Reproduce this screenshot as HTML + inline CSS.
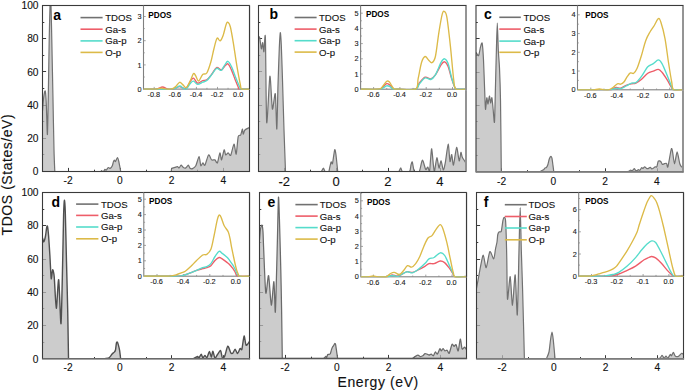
<!DOCTYPE html><html><head><meta charset="utf-8"><style>html,body{margin:0;padding:0;background:#fff;}svg{display:block;}text{font-family:"Liberation Sans", sans-serif;}</style></head><body>
<svg width="685" height="391" viewBox="0 0 685 391">
<rect width="685" height="391" fill="#fff"/>
<defs>
<clipPath id="cpa"><rect x="42.5" y="5.5" width="207" height="166"/></clipPath>
<clipPath id="cpb"><rect x="258.5" y="5.5" width="207.5" height="166"/></clipPath>
<clipPath id="cpc"><rect x="476" y="5.5" width="207" height="166.4"/></clipPath>
<clipPath id="cpd"><rect x="42.5" y="192.5" width="207" height="166.3"/></clipPath>
<clipPath id="cpe"><rect x="259.5" y="192.5" width="207" height="166"/></clipPath>
<clipPath id="cpf"><rect x="476.5" y="192.5" width="207" height="166.3"/></clipPath>
</defs>
<text stroke="#111" stroke-width="0.12" x="11.6" y="174.6" transform="rotate(-90 11.6 174.6)" text-anchor="middle" font-size="14" letter-spacing="0.55" fill="#111">TDOS (States/eV)</text>
<text stroke="#111" stroke-width="0.12" x="378.2" y="386.6" text-anchor="middle" font-size="14" letter-spacing="0.6" fill="#111">Energy (eV)</text>
<path d="M68.5,171.5v-3.6M94.5,171.5v-1.8M120.5,171.5v-3.6M146.5,171.5v-1.8M171.5,171.5v-3.6M197.5,171.5v-1.8M223.5,171.5v-3.6M42.5,154.5h1.8M42.5,138.5h3.6M42.5,121.5h1.8M42.5,105.5h3.6M42.5,88.5h1.8M42.5,71.5h3.6M42.5,55.5h1.8M42.5,38.5h3.6M42.5,22.5h1.8" stroke="#3a3a3a" stroke-width="1" fill="none"/>
<g clip-path="url(#cpa)"><path d="M42.5,110.7 C42.62,109.24 43.25,101.28 43.5,99 C43.75,96.72 44.26,93.44 44.5,92.5 C44.74,91.56 45.17,90.06 45.4,91.5 C45.62,92.94 46.05,98.62 46.3,104 C46.55,109.38 47.15,135.62 47.4,134.5 C47.65,133.38 48.07,106.81 48.3,95 C48.52,83.19 48.98,51.62 49.2,40 C49.43,28.38 49.89,6.75 50.1,2 C50.31,-2.75 50.69,-2.75 50.9,2 C51.11,6.75 51.54,27.75 51.8,40 C52.06,52.25 52.73,86.25 53,100 C53.27,113.75 53.77,141.06 54,150 C54.23,158.94 54.7,168.81 54.8,171.5 L54.8,172.5 L42.5,172.5 Z" fill="#bababa" fill-opacity="0.74"/><path d="M101,171.5 C101.08,171.38 101.42,170.5 101.6,170.5 C101.77,170.5 102.14,171.43 102.4,171.5 C102.66,171.57 103.38,171.36 103.7,171.1 C104.03,170.84 104.67,169.53 105,169.4 C105.33,169.28 105.89,170.34 106.3,170.1 C106.71,169.86 107.81,167.71 108.3,167.5 C108.79,167.29 109.71,168.58 110.2,168.4 C110.69,168.22 111.79,166.96 112.2,166.1 C112.61,165.24 113.22,162.24 113.5,161.5 C113.78,160.76 114.15,160.2 114.4,160.2 C114.65,160.2 115.12,161.82 115.5,161.5 C115.88,161.18 116.99,157.6 117.4,157.6 C117.81,157.6 118.39,159.76 118.8,161.5 C119.21,163.24 120.46,170.25 120.7,171.5 L120.7,172.5 L101,172.5 Z" fill="#bababa" fill-opacity="0.74"/><path d="M171.3,171.5 C171.35,171.14 171.24,169.11 171.7,168.6 C172.16,168.09 174.28,167.65 175,167.4 C175.72,167.15 176.99,166.54 177.5,166.6 C178.01,166.66 178.65,168.08 179.1,167.9 C179.55,167.72 180.57,165.26 181.1,165.2 C181.62,165.14 182.71,167.06 183.3,167.4 C183.89,167.74 185.18,168.18 185.8,167.9 C186.43,167.62 187.78,165.16 188.3,165.2 C188.83,165.24 189.47,167.77 190,168.2 C190.53,168.62 191.78,168.91 192.5,168.6 C193.22,168.29 194.98,167.2 195.8,165.7 C196.62,164.2 198.47,156.6 199.1,156.6 C199.72,156.6 200.33,164.91 200.8,165.7 C201.28,166.49 202.39,162.96 202.9,162.9 C203.41,162.84 204.19,166.2 204.9,165.2 C205.61,164.2 207.76,155.56 208.6,154.9 C209.44,154.24 210.81,159.28 211.6,159.9 C212.39,160.53 214.18,159.53 214.9,159.9 C215.62,160.28 216.78,163.78 217.4,162.9 C218.03,162.03 219.38,153.28 219.9,152.9 C220.43,152.53 221.07,160.28 221.6,159.9 C222.12,159.53 223.59,150.53 224.1,149.9 C224.61,149.28 225.19,154.53 225.7,154.9 C226.21,155.28 227.57,152.85 228.2,152.9 C228.82,152.95 229.97,156.4 230.7,155.3 C231.42,154.2 233.31,144.25 234,144.1 C234.69,143.95 235.67,155.04 236.2,154.1 C236.72,153.16 237.64,138.99 238.2,136.6 C238.76,134.21 240.17,135.94 240.7,135 C241.22,134.06 242.09,129.21 242.4,129.1 C242.71,128.99 242.89,133.99 243.2,134.1 C243.51,134.21 244.11,130.82 244.9,130 C245.69,129.18 248.93,127.81 249.5,127.5 L249.5,172.5 L171.3,172.5 Z" fill="#bababa" fill-opacity="0.74"/><path d="M42.5,110.7 C42.62,109.24 43.25,101.28 43.5,99 C43.75,96.72 44.26,93.44 44.5,92.5 C44.74,91.56 45.17,90.06 45.4,91.5 C45.62,92.94 46.05,98.62 46.3,104 C46.55,109.38 47.15,135.62 47.4,134.5 C47.65,133.38 48.07,106.81 48.3,95 C48.52,83.19 48.98,51.62 49.2,40 C49.43,28.38 49.89,6.75 50.1,2 C50.31,-2.75 50.69,-2.75 50.9,2 C51.11,6.75 51.54,27.75 51.8,40 C52.06,52.25 52.73,86.25 53,100 C53.27,113.75 53.77,141.06 54,150 C54.23,158.94 54.7,168.81 54.8,171.5" fill="none" stroke="#717171" stroke-width="1.2" stroke-linejoin="round"/><path d="M101,171.5 C101.08,171.38 101.42,170.5 101.6,170.5 C101.77,170.5 102.14,171.43 102.4,171.5 C102.66,171.57 103.38,171.36 103.7,171.1 C104.03,170.84 104.67,169.53 105,169.4 C105.33,169.28 105.89,170.34 106.3,170.1 C106.71,169.86 107.81,167.71 108.3,167.5 C108.79,167.29 109.71,168.58 110.2,168.4 C110.69,168.22 111.79,166.96 112.2,166.1 C112.61,165.24 113.22,162.24 113.5,161.5 C113.78,160.76 114.15,160.2 114.4,160.2 C114.65,160.2 115.12,161.82 115.5,161.5 C115.88,161.18 116.99,157.6 117.4,157.6 C117.81,157.6 118.39,159.76 118.8,161.5 C119.21,163.24 120.46,170.25 120.7,171.5" fill="none" stroke="#717171" stroke-width="1.2" stroke-linejoin="round"/><path d="M171.3,171.5 C171.35,171.14 171.24,169.11 171.7,168.6 C172.16,168.09 174.28,167.65 175,167.4 C175.72,167.15 176.99,166.54 177.5,166.6 C178.01,166.66 178.65,168.08 179.1,167.9 C179.55,167.72 180.57,165.26 181.1,165.2 C181.62,165.14 182.71,167.06 183.3,167.4 C183.89,167.74 185.18,168.18 185.8,167.9 C186.43,167.62 187.78,165.16 188.3,165.2 C188.83,165.24 189.47,167.77 190,168.2 C190.53,168.62 191.78,168.91 192.5,168.6 C193.22,168.29 194.98,167.2 195.8,165.7 C196.62,164.2 198.47,156.6 199.1,156.6 C199.72,156.6 200.33,164.91 200.8,165.7 C201.28,166.49 202.39,162.96 202.9,162.9 C203.41,162.84 204.19,166.2 204.9,165.2 C205.61,164.2 207.76,155.56 208.6,154.9 C209.44,154.24 210.81,159.28 211.6,159.9 C212.39,160.53 214.18,159.53 214.9,159.9 C215.62,160.28 216.78,163.78 217.4,162.9 C218.03,162.03 219.38,153.28 219.9,152.9 C220.43,152.53 221.07,160.28 221.6,159.9 C222.12,159.53 223.59,150.53 224.1,149.9 C224.61,149.28 225.19,154.53 225.7,154.9 C226.21,155.28 227.57,152.85 228.2,152.9 C228.82,152.95 229.97,156.4 230.7,155.3 C231.42,154.2 233.31,144.25 234,144.1 C234.69,143.95 235.67,155.04 236.2,154.1 C236.72,153.16 237.64,138.99 238.2,136.6 C238.76,134.21 240.17,135.94 240.7,135 C241.22,134.06 242.09,129.21 242.4,129.1 C242.71,128.99 242.89,133.99 243.2,134.1 C243.51,134.21 244.11,130.82 244.9,130 C245.69,129.18 248.93,127.81 249.5,127.5" fill="none" stroke="#717171" stroke-width="1.2" stroke-linejoin="round"/></g>
<rect x="42.5" y="5.5" width="207" height="166" fill="none" stroke="#3a3a3a" stroke-width="1.1"/>
<text stroke="#111" stroke-width="0.12" x="68.08" y="183.9" text-anchor="middle" font-size="10.2" fill="#111">-2</text>
<text stroke="#111" stroke-width="0.12" x="119.83" y="183.9" text-anchor="middle" font-size="10.2" fill="#111">0</text>
<text stroke="#111" stroke-width="0.12" x="171.57" y="183.9" text-anchor="middle" font-size="10.2" fill="#111">2</text>
<text stroke="#111" stroke-width="0.12" x="223.32" y="183.9" text-anchor="middle" font-size="10.2" fill="#111">4</text>
<text stroke="#111" stroke-width="0.12" x="38.5" y="175.2" text-anchor="end" font-size="10.2" fill="#111">0</text>
<text stroke="#111" stroke-width="0.12" x="38.5" y="142" text-anchor="end" font-size="10.2" fill="#111">20</text>
<text stroke="#111" stroke-width="0.12" x="38.5" y="108.8" text-anchor="end" font-size="10.2" fill="#111">40</text>
<text stroke="#111" stroke-width="0.12" x="38.5" y="75.6" text-anchor="end" font-size="10.2" fill="#111">60</text>
<text stroke="#111" stroke-width="0.12" x="38.5" y="42.4" text-anchor="end" font-size="10.2" fill="#111">80</text>
<text stroke="#111" stroke-width="0.12" x="38.5" y="9.2" text-anchor="end" font-size="10.2" fill="#111">100</text>
<text x="53.3" y="19.8" font-size="14" font-weight="bold" fill="#000">a</text>
<line x1="80.5" y1="17.6" x2="102.6" y2="17.6" stroke="#717171" stroke-width="1.6"/>
<text stroke="#111" stroke-width="0.12" x="105.2" y="21" font-size="9.6" fill="#111">TDOS</text>
<line x1="80.5" y1="29.2" x2="102.6" y2="29.2" stroke="#ee5d69" stroke-width="1.6"/>
<text stroke="#111" stroke-width="0.12" x="105.2" y="32.6" font-size="9.6" fill="#111">Ga-s</text>
<line x1="80.5" y1="40.9" x2="102.6" y2="40.9" stroke="#55dccb" stroke-width="1.6"/>
<text stroke="#111" stroke-width="0.12" x="105.2" y="44.3" font-size="9.6" fill="#111">Ga-p</text>
<line x1="80.5" y1="52.4" x2="102.6" y2="52.4" stroke="#dcba48" stroke-width="1.6"/>
<text stroke="#111" stroke-width="0.12" x="105.2" y="55.8" font-size="9.6" fill="#111">O-p</text>
<rect x="143.5" y="5.5" width="106" height="83.6" fill="#fff" stroke="#808080" stroke-width="1.1"/>
<path d="M154.2,89.1v-2.2M164.75,89.1v-1.3M175.3,89.1v-2.2M185.85,89.1v-1.3M196.4,89.1v-2.2M206.95,89.1v-1.3M217.5,89.1v-2.2M228.05,89.1v-1.3M238.6,89.1v-2.2M143.5,77h1.3M143.5,64.9h2.2M143.5,52.8h1.3M143.5,40.7h2.2M143.5,28.6h1.3M143.5,16.5h2.2" stroke="#8c8c8c" stroke-width="0.8" fill="none"/>
<text stroke="#222" stroke-width="0.12" x="153.8" y="97.1" text-anchor="middle" font-size="7.3" fill="#222">-0.8</text>
<text stroke="#222" stroke-width="0.12" x="174.9" y="97.1" text-anchor="middle" font-size="7.3" fill="#222">-0.6</text>
<text stroke="#222" stroke-width="0.12" x="196" y="97.1" text-anchor="middle" font-size="7.3" fill="#222">-0.4</text>
<text stroke="#222" stroke-width="0.12" x="217.1" y="97.1" text-anchor="middle" font-size="7.3" fill="#222">-0.2</text>
<text stroke="#222" stroke-width="0.12" x="238.2" y="97.1" text-anchor="middle" font-size="7.3" fill="#222">0.0</text>
<text stroke="#222" stroke-width="0.12" x="141.5" y="91.7" text-anchor="end" font-size="7.3" fill="#222">0</text>
<text stroke="#222" stroke-width="0.12" x="141.5" y="67.5" text-anchor="end" font-size="7.3" fill="#222">1</text>
<text stroke="#222" stroke-width="0.12" x="141.5" y="43.3" text-anchor="end" font-size="7.3" fill="#222">2</text>
<text stroke="#222" stroke-width="0.12" x="141.5" y="19.1" text-anchor="end" font-size="7.3" fill="#222">3</text>
<text x="148.3" y="17.7" font-size="8.2" font-weight="bold" fill="#000">PDOS</text>
<clipPath id="icpa"><rect x="143.5" y="5.5" width="106" height="84.2"/></clipPath>
<g clip-path="url(#icpa)" fill="none" stroke-width="1.35" stroke-linejoin="round">
<path d="M143.5,89.1 C145.58,89.1 152.83,89.45 156,89.1 C159.17,88.75 160.5,87 162.5,87 C164.5,87 166.08,88.78 168,89.1 C169.92,89.42 172.13,89.32 174,88.9 C175.87,88.48 177.7,86.77 179.2,86.6 C180.7,86.43 181.8,87.65 183,87.9 C184.2,88.15 185.15,89.22 186.4,88.1 C187.65,86.98 189.32,82.87 190.5,81.2 C191.68,79.53 192.32,77.77 193.5,78.1 C194.68,78.43 196.07,82.78 197.6,83.2 C199.13,83.62 201.17,81.17 202.7,80.6 C204.23,80.03 205.27,80.9 206.8,79.8 C208.33,78.7 210.27,76.05 211.9,74 C213.53,71.95 215.05,68.18 216.6,67.5 C218.15,66.82 219.93,70 221.2,69.9 C222.47,69.8 223.08,67.92 224.2,66.9 C225.32,65.88 226.7,63.3 227.9,63.8 C229.1,64.3 230.22,67.33 231.4,69.9 C232.58,72.47 233.87,76.37 235,79.2 C236.13,82.03 237.48,85.25 238.2,86.9 C238.92,88.55 237.42,88.73 239.3,89.1 C241.18,89.47 247.8,89.1 249.5,89.1" stroke="#ee5d69"/>
<path d="M143.5,89.1 C148.25,89.1 165.98,89.62 172,89.1 C178.02,88.58 177.77,86.17 179.6,86 C181.43,85.83 181.87,87.62 183,88.1 C184.13,88.58 185.15,89.72 186.4,88.9 C187.65,88.08 189.32,84.48 190.5,83.2 C191.68,81.92 192.32,81.02 193.5,81.2 C194.68,81.38 196.07,84.13 197.6,84.3 C199.13,84.47 201.17,82.82 202.7,82.2 C204.23,81.58 205.27,81.9 206.8,80.6 C208.33,79.3 210.27,76.45 211.9,74.4 C213.53,72.35 215.05,68.97 216.6,68.3 C218.15,67.63 219.93,70.8 221.2,70.4 C222.47,70 223.08,67.42 224.2,65.9 C225.32,64.38 226.67,61.13 227.9,61.3 C229.13,61.47 230.27,64.1 231.6,66.9 C232.93,69.7 234.53,74.7 235.9,78.1 C237.27,81.5 238.93,85.47 239.8,87.3 C240.67,89.13 239.48,88.8 241.1,89.1 C242.72,89.4 248.1,89.1 249.5,89.1" stroke="#55dccb"/>
<path d="M143.5,89.1 C145.58,89.1 153,89.27 156,89.1 C159,88.93 159.83,88.1 161.5,88.1 C163.17,88.1 164.25,88.97 166,89.1 C167.75,89.23 170.33,89.38 172,88.9 C173.67,88.42 174.73,87.3 176,86.2 C177.27,85.1 178.43,82.52 179.6,82.3 C180.77,82.08 181.87,84.03 183,84.9 C184.13,85.77 185.15,88.28 186.4,87.5 C187.65,86.72 189.32,82.52 190.5,80.2 C191.68,77.88 192.65,74.35 193.5,73.6 C194.35,72.85 194.75,74.47 195.6,75.7 C196.45,76.93 197.42,81.22 198.6,81 C199.78,80.78 201.33,75.73 202.7,74.4 C204.07,73.07 205.43,75.1 206.8,73 C208.17,70.9 209.7,65.88 210.9,61.8 C212.1,57.72 212.97,52.43 214,48.5 C215.03,44.57 216.08,39.47 217.1,38.2 C218.12,36.93 219.08,41.4 220.1,40.9 C221.12,40.4 222.17,38.03 223.2,35.2 C224.23,32.37 225.45,26.02 226.3,23.9 C227.15,21.78 227.62,21.98 228.3,22.5 C228.98,23.02 229.55,23.53 230.4,27 C231.25,30.47 232.35,37 233.4,43.3 C234.45,49.6 235.55,57.97 236.7,64.8 C237.85,71.63 239.45,80.25 240.3,84.3 C241.15,88.35 240.27,88.3 241.8,89.1 C243.33,89.9 248.22,89.1 249.5,89.1" stroke="#dcba48"/>
</g>
<path d="M143.5,5.5H249.5" stroke="#3a3a3a" stroke-width="1.1" fill="none"/>
<path d="M249.5,5.5V89.1" stroke="#3a3a3a" stroke-width="1.1" fill="none"/>
<path d="M284.5,171.5v-3.6M310.5,171.5v-1.8M336.5,171.5v-3.6M362.5,171.5v-1.8M388.5,171.5v-3.6M414.5,171.5v-1.8M440.5,171.5v-3.6M258.5,154.5h1.8M258.5,138.5h3.6M258.5,121.5h1.8M258.5,105.5h3.6M258.5,88.5h1.8M258.5,71.5h3.6M258.5,55.5h1.8M258.5,38.5h3.6M258.5,22.5h1.8" stroke="#3a3a3a" stroke-width="1" fill="none"/>
<g clip-path="url(#cpb)"><path d="M258.5,38.5 C258.64,38.35 259.24,36.01 259.6,37.3 C259.96,38.59 261.01,48.14 261.4,48.8 C261.79,49.46 262.39,42.23 262.7,42.6 C263.01,42.98 263.56,52.46 263.9,51.8 C264.24,51.14 265.05,28.46 265.4,37.3 C265.75,46.14 266.14,117.62 266.7,122.5 C267.26,127.38 269.19,77.99 269.9,76.3 C270.61,74.61 271.72,106.83 272.4,109 C273.07,111.17 274.75,91.2 275.3,93.7 C275.85,96.2 276.46,130.09 276.8,129 C277.14,127.91 277.69,95.12 278,85 C278.31,74.88 279.01,54.54 279.3,48 C279.59,41.46 280.05,33.08 280.3,32.7 C280.55,32.33 281.03,39.09 281.3,45 C281.57,50.91 282.16,69.38 282.5,80 C282.84,90.62 283.62,118.56 284,130 C284.38,141.44 285.31,166.31 285.5,171.5 L285.5,172.5 L258.5,172.5 Z" fill="#bababa" fill-opacity="0.74"/><path d="M321.5,171.5 C321.74,171.09 322.96,168.2 323.4,168.2 C323.84,168.2 324.8,171.09 325,171.5 L325,172.5 L321.5,172.5 Z" fill="#bababa" fill-opacity="0.74"/><path d="M328.9,171.5 C329.17,170.32 330.65,163.1 331.1,162.1 C331.55,161.1 332.05,165.05 332.5,163.5 C332.95,161.95 334.26,150.76 334.7,149.7 C335.14,148.64 335.62,152.28 336,155 C336.38,157.72 337.49,169.44 337.7,171.5 L337.7,172.5 L328.9,172.5 Z" fill="#bababa" fill-opacity="0.74"/><path d="M399,171.5 C399.23,171.05 400.36,167.9 400.8,167.9 C401.24,167.9 401.41,171.05 402.5,171.5 C403.59,171.95 408.44,172.31 409.5,171.5 C410.56,170.69 410.65,166.19 411,165 C411.35,163.81 411.88,161.19 412.3,162 C412.73,162.81 413.52,170.31 414.4,171.5 C415.27,172.69 418.3,172.93 419.3,171.5 C420.3,170.07 421.6,160.35 422.4,160.1 C423.2,159.85 425.02,168.64 425.7,169.5 C426.38,170.36 427.32,166.75 427.8,167 C428.28,167.25 429.16,172.38 429.5,171.5 C429.84,170.62 430.23,162.82 430.5,160 C430.77,157.18 431.34,148.28 431.7,148.9 C432.06,149.53 433.05,162.24 433.4,165 C433.75,167.76 434.06,171.91 434.5,171 C434.94,170.09 436.34,158.07 436.9,157.7 C437.46,157.32 438.48,167.61 439,168 C439.52,168.39 440.56,160.55 441.1,160.8 C441.64,161.05 442.76,169.82 443.3,170 C443.84,170.18 444.79,165.42 445.4,162.2 C446.01,158.97 447.62,144.29 448.2,144.2 C448.77,144.11 449.56,160.21 450,161.5 C450.44,162.79 451.26,154.06 451.7,154.5 C452.14,154.94 452.89,165.89 453.5,165 C454.11,164.11 455.89,147.93 456.6,147.4 C457.31,146.88 458.66,160.18 459.2,160.8 C459.74,161.43 460.51,152.84 460.9,152.4 C461.29,151.96 461.66,155.98 462.3,157.3 C462.94,158.62 465.54,162.29 466,163 L466,172.5 L399,172.5 Z" fill="#bababa" fill-opacity="0.74"/><path d="M258.5,38.5 C258.64,38.35 259.24,36.01 259.6,37.3 C259.96,38.59 261.01,48.14 261.4,48.8 C261.79,49.46 262.39,42.23 262.7,42.6 C263.01,42.98 263.56,52.46 263.9,51.8 C264.24,51.14 265.05,28.46 265.4,37.3 C265.75,46.14 266.14,117.62 266.7,122.5 C267.26,127.38 269.19,77.99 269.9,76.3 C270.61,74.61 271.72,106.83 272.4,109 C273.07,111.17 274.75,91.2 275.3,93.7 C275.85,96.2 276.46,130.09 276.8,129 C277.14,127.91 277.69,95.12 278,85 C278.31,74.88 279.01,54.54 279.3,48 C279.59,41.46 280.05,33.08 280.3,32.7 C280.55,32.33 281.03,39.09 281.3,45 C281.57,50.91 282.16,69.38 282.5,80 C282.84,90.62 283.62,118.56 284,130 C284.38,141.44 285.31,166.31 285.5,171.5" fill="none" stroke="#717171" stroke-width="1.2" stroke-linejoin="round"/><path d="M321.5,171.5 C321.74,171.09 322.96,168.2 323.4,168.2 C323.84,168.2 324.8,171.09 325,171.5" fill="none" stroke="#717171" stroke-width="1.2" stroke-linejoin="round"/><path d="M328.9,171.5 C329.17,170.32 330.65,163.1 331.1,162.1 C331.55,161.1 332.05,165.05 332.5,163.5 C332.95,161.95 334.26,150.76 334.7,149.7 C335.14,148.64 335.62,152.28 336,155 C336.38,157.72 337.49,169.44 337.7,171.5" fill="none" stroke="#717171" stroke-width="1.2" stroke-linejoin="round"/><path d="M399,171.5 C399.23,171.05 400.36,167.9 400.8,167.9 C401.24,167.9 401.41,171.05 402.5,171.5 C403.59,171.95 408.44,172.31 409.5,171.5 C410.56,170.69 410.65,166.19 411,165 C411.35,163.81 411.88,161.19 412.3,162 C412.73,162.81 413.52,170.31 414.4,171.5 C415.27,172.69 418.3,172.93 419.3,171.5 C420.3,170.07 421.6,160.35 422.4,160.1 C423.2,159.85 425.02,168.64 425.7,169.5 C426.38,170.36 427.32,166.75 427.8,167 C428.28,167.25 429.16,172.38 429.5,171.5 C429.84,170.62 430.23,162.82 430.5,160 C430.77,157.18 431.34,148.28 431.7,148.9 C432.06,149.53 433.05,162.24 433.4,165 C433.75,167.76 434.06,171.91 434.5,171 C434.94,170.09 436.34,158.07 436.9,157.7 C437.46,157.32 438.48,167.61 439,168 C439.52,168.39 440.56,160.55 441.1,160.8 C441.64,161.05 442.76,169.82 443.3,170 C443.84,170.18 444.79,165.42 445.4,162.2 C446.01,158.97 447.62,144.29 448.2,144.2 C448.77,144.11 449.56,160.21 450,161.5 C450.44,162.79 451.26,154.06 451.7,154.5 C452.14,154.94 452.89,165.89 453.5,165 C454.11,164.11 455.89,147.93 456.6,147.4 C457.31,146.88 458.66,160.18 459.2,160.8 C459.74,161.43 460.51,152.84 460.9,152.4 C461.29,151.96 461.66,155.98 462.3,157.3 C462.94,158.62 465.54,162.29 466,163" fill="none" stroke="#717171" stroke-width="1.2" stroke-linejoin="round"/></g>
<rect x="258.5" y="5.5" width="207.5" height="166" fill="none" stroke="#3a3a3a" stroke-width="1.1"/>
<line x1="466" y1="6.1" x2="466" y2="170.9" stroke="#fff" stroke-width="1.4"/>
<line x1="466" y1="6.1" x2="466" y2="170.9" stroke="#878787" stroke-width="1.7"/>
<text stroke="#111" stroke-width="0.12" x="284.24" y="186.1" text-anchor="middle" font-size="13" fill="#111">-2</text>
<text stroke="#111" stroke-width="0.12" x="336.11" y="186.1" text-anchor="middle" font-size="13" fill="#111">0</text>
<text stroke="#111" stroke-width="0.12" x="387.99" y="186.1" text-anchor="middle" font-size="13" fill="#111">2</text>
<text stroke="#111" stroke-width="0.12" x="439.86" y="186.1" text-anchor="middle" font-size="13" fill="#111">4</text>
<text x="269.4" y="19.3" font-size="14" font-weight="bold" fill="#000">b</text>
<line x1="294.6" y1="17.5" x2="316.6" y2="17.5" stroke="#717171" stroke-width="1.6"/>
<text stroke="#111" stroke-width="0.12" x="319" y="20.9" font-size="9.6" fill="#111">TDOS</text>
<line x1="294.6" y1="29.1" x2="316.6" y2="29.1" stroke="#ee5d69" stroke-width="1.6"/>
<text stroke="#111" stroke-width="0.12" x="319" y="32.5" font-size="9.6" fill="#111">Ga-s</text>
<line x1="294.6" y1="40.7" x2="316.6" y2="40.7" stroke="#55dccb" stroke-width="1.6"/>
<text stroke="#111" stroke-width="0.12" x="319" y="44.1" font-size="9.6" fill="#111">Ga-p</text>
<line x1="294.6" y1="52.1" x2="316.6" y2="52.1" stroke="#dcba48" stroke-width="1.6"/>
<text stroke="#111" stroke-width="0.12" x="319" y="55.5" font-size="9.6" fill="#111">O-p</text>
<rect x="360.6" y="5.5" width="105.4" height="83.7" fill="#fff" stroke="#808080" stroke-width="1.1"/>
<path d="M373.6,89.2v-2.2M386.75,89.2v-1.3M399.9,89.2v-2.2M413.05,89.2v-1.3M426.2,89.2v-2.2M439.35,89.2v-1.3M452.5,89.2v-2.2M360.6,81.6h1.3M360.6,74h2.2M360.6,66.4h1.3M360.6,58.8h2.2M360.6,51.2h1.3M360.6,43.6h2.2M360.6,36h1.3M360.6,28.4h2.2M360.6,20.8h1.3M360.6,13.2h2.2" stroke="#8c8c8c" stroke-width="0.8" fill="none"/>
<text stroke="#222" stroke-width="0.12" x="373.2" y="97.2" text-anchor="middle" font-size="7.3" fill="#222">-0.6</text>
<text stroke="#222" stroke-width="0.12" x="399.5" y="97.2" text-anchor="middle" font-size="7.3" fill="#222">-0.4</text>
<text stroke="#222" stroke-width="0.12" x="425.8" y="97.2" text-anchor="middle" font-size="7.3" fill="#222">-0.2</text>
<text stroke="#222" stroke-width="0.12" x="452.1" y="97.2" text-anchor="middle" font-size="7.3" fill="#222">0.0</text>
<text stroke="#222" stroke-width="0.12" x="358.6" y="91.8" text-anchor="end" font-size="7.3" fill="#222">0</text>
<text stroke="#222" stroke-width="0.12" x="358.6" y="76.6" text-anchor="end" font-size="7.3" fill="#222">1</text>
<text stroke="#222" stroke-width="0.12" x="358.6" y="61.4" text-anchor="end" font-size="7.3" fill="#222">2</text>
<text stroke="#222" stroke-width="0.12" x="358.6" y="46.2" text-anchor="end" font-size="7.3" fill="#222">3</text>
<text stroke="#222" stroke-width="0.12" x="358.6" y="31" text-anchor="end" font-size="7.3" fill="#222">4</text>
<text stroke="#222" stroke-width="0.12" x="358.6" y="15.8" text-anchor="end" font-size="7.3" fill="#222">5</text>
<text x="366" y="17.4" font-size="8.2" font-weight="bold" fill="#000">PDOS</text>
<clipPath id="icpb"><rect x="360.6" y="5.5" width="105.4" height="84.3"/></clipPath>
<g clip-path="url(#icpb)" fill="none" stroke-width="1.35" stroke-linejoin="round">
<path d="M361,89.2 C364,89.2 375.33,89.58 379,89.2 C382.67,88.82 381.72,87.83 383,86.9 C384.28,85.97 385.53,83.88 386.7,83.6 C387.87,83.32 388.87,84.3 390,85.2 C391.13,86.1 392.17,88.33 393.5,89 C394.83,89.67 394.35,89.17 398,89.2 C401.65,89.23 411.85,90.23 415.4,89.2 C418.95,88.17 417.68,85 419.3,83 C420.92,81 423.18,77.9 425.1,77.2 C427.02,76.5 429.08,79.18 430.8,78.8 C432.52,78.42 433.67,77.27 435.4,74.9 C437.13,72.53 439.67,66.78 441.2,64.6 C442.73,62.42 443.45,61.5 444.6,61.8 C445.75,62.1 446.95,63.63 448.1,66.4 C449.25,69.17 450.35,74.8 451.5,78.4 C452.65,82 454.25,86.2 455,88 C455.75,89.8 454.17,89 456,89.2 C457.83,89.4 464.33,89.2 466,89.2" stroke="#ee5d69"/>
<path d="M361,89.2 C364.17,89.2 376.25,89.45 380,89.2 C383.75,88.95 382.38,88.27 383.5,87.7 C384.62,87.13 385.62,85.97 386.7,85.8 C387.78,85.63 388.95,86.15 390,86.7 C391.05,87.25 391.67,88.68 393,89.1 C394.33,89.52 394.27,89.18 398,89.2 C401.73,89.22 411.85,90.05 415.4,89.2 C418.95,88.35 417.68,85.98 419.3,84.1 C420.92,82.22 423.18,78.67 425.1,77.9 C427.02,77.13 429.08,80 430.8,79.5 C432.52,79 433.67,77.78 435.4,74.9 C437.13,72.02 439.67,64.88 441.2,62.2 C442.73,59.52 443.45,58.6 444.6,58.8 C445.75,59 446.95,60.33 448.1,63.4 C449.25,66.47 450.35,73.1 451.5,77.2 C452.65,81.3 454.25,86 455,88 C455.75,90 454.17,89 456,89.2 C457.83,89.4 464.33,89.2 466,89.2" stroke="#55dccb"/>
<path d="M361,89.2 C363.83,89.2 374.5,89.53 378,89.2 C381.5,88.87 380.55,88.52 382,87.2 C383.45,85.88 385.47,82.17 386.7,81.3 C387.93,80.43 388.52,81.18 389.4,82 C390.28,82.82 391.18,85.03 392,86.2 C392.82,87.37 393.3,88.5 394.3,89 C395.3,89.5 394.48,89.17 398,89.2 C401.52,89.23 412.03,91 415.4,89.2 C418.77,87.4 417.17,82.9 418.2,78.4 C419.23,73.9 420.45,65.85 421.6,62.2 C422.75,58.55 423.95,56.88 425.1,56.5 C426.25,56.12 427.35,58.87 428.5,59.9 C429.65,60.93 430.85,63.27 432,62.7 C433.15,62.13 434.25,61.57 435.4,56.5 C436.55,51.43 437.75,39.4 438.9,32.3 C440.05,25.2 441.35,17.35 442.3,13.9 C443.25,10.45 443.83,11.02 444.6,11.6 C445.37,12.18 445.93,11.65 446.9,17.4 C447.87,23.15 449.25,35.55 450.4,46.1 C451.55,56.65 452.85,73.52 453.8,80.7 C454.75,87.88 454.07,87.78 456.1,89.2 C458.13,90.62 464.35,89.2 466,89.2" stroke="#dcba48"/>
</g>
<path d="M360.6,5.5H466" stroke="#3a3a3a" stroke-width="1.1" fill="none"/>
<line x1="466" y1="6.1" x2="466" y2="90.2" stroke="#fff" stroke-width="1.4"/>
<line x1="466" y1="6.1" x2="466" y2="90.2" stroke="#878787" stroke-width="1.7"/>
<path d="M501.5,171.9v-3.6M527.5,171.9v-1.8M553.5,171.9v-3.6M579.5,171.9v-1.8M605.5,171.9v-3.6M631.5,171.9v-1.8M657.5,171.9v-3.6M476,155.5h1.8M476,138.5h3.6M476,121.5h1.8M476,105.5h3.6M476,88.5h1.8M476,72.5h3.6M476,55.5h1.8M476,38.5h3.6M476,22.5h1.8" stroke="#3a3a3a" stroke-width="1" fill="none"/>
<g clip-path="url(#cpc)"><path d="M476,52.5 C476.32,52.89 478.04,56.29 478.6,55.6 C479.16,54.91 480.05,48.54 480.5,47 C480.95,45.46 481.82,41.67 482.2,43.3 C482.57,44.92 483.18,53.66 483.5,60 C483.82,66.34 484.55,87.84 484.8,94 C485.05,100.16 485.25,108.83 485.5,109.3 C485.75,109.77 486.49,98.46 486.8,97.8 C487.11,97.14 487.68,104.22 488,104 C488.32,103.78 489.07,96.14 489.4,96 C489.72,95.86 490.29,102.68 490.6,102.9 C490.91,103.12 491.57,96.91 491.9,97.8 C492.22,98.69 492.88,106.97 493.2,110 C493.52,113.03 494.21,125.12 494.5,122 C494.79,118.88 495.26,94 495.5,85 C495.74,76 496.17,57.75 496.4,50 C496.62,42.25 497.06,23 497.3,23 C497.54,23 498.03,44.38 498.3,50 C498.57,55.62 499.23,61.75 499.5,68 C499.77,74.25 500.27,87.01 500.5,100 C500.73,112.99 501.2,162.91 501.3,171.9 L501.3,172.9 L476,172.9 Z" fill="#bababa" fill-opacity="0.74"/><path d="M539,171.9 C539.19,171.84 540.09,171.6 540.5,171.4 C540.91,171.2 541.94,170.49 542.3,170.3 C542.66,170.11 543.06,170.19 543.4,169.9 C543.74,169.61 544.61,168.32 545,168 C545.39,167.68 546.12,167.78 546.5,167.3 C546.88,166.83 547.66,165.21 548,164.2 C548.34,163.19 548.91,160.11 549.2,159.2 C549.49,158.29 550.06,157.25 550.3,156.9 C550.54,156.55 550.89,156.21 551.1,156.4 C551.31,156.59 551.76,157.24 552,158.4 C552.24,159.56 552.77,164.01 553,165.7 C553.23,167.39 553.7,171.12 553.8,171.9 L553.8,172.9 L539,172.9 Z" fill="#bababa" fill-opacity="0.74"/><path d="M627.2,171.6 C627.48,171.53 628.96,171.2 629.4,171 C629.84,170.8 630.36,170 630.7,170 C631.04,170 631.66,171.18 632.1,171 C632.54,170.82 633.78,168.69 634.2,168.6 C634.62,168.51 635.17,170.04 635.5,170.3 C635.83,170.56 636.44,170.77 636.8,170.7 C637.16,170.62 638.01,169.75 638.4,169.7 C638.79,169.65 639.5,170.55 639.9,170.3 C640.3,170.05 641.21,167.94 641.6,167.7 C641.99,167.46 642.61,168.51 643,168.4 C643.39,168.29 644.26,166.8 644.7,166.8 C645.14,166.8 646.06,168.18 646.5,168.4 C646.94,168.62 647.74,168.74 648.2,168.6 C648.66,168.46 649.75,167.25 650.2,167.3 C650.65,167.35 651.39,168.9 651.8,169 C652.21,169.1 653.08,168.38 653.5,168.1 C653.92,167.82 654.79,166.96 655.2,166.8 C655.61,166.64 656.41,167.51 656.8,166.8 C657.19,166.09 657.81,161.76 658.3,161.1 C658.79,160.44 660.2,161.09 660.7,161.5 C661.2,161.91 661.89,164.11 662.3,164.4 C662.71,164.69 663.46,163.93 664,163.8 C664.54,163.68 666.11,163.03 666.6,163.4 C667.09,163.78 667.32,168.56 667.9,166.8 C668.48,165.04 670.62,151.24 671.2,149.3 C671.78,147.36 672.09,149.49 672.5,151.3 C672.91,153.11 673.92,163.73 674.5,163.8 C675.08,163.88 676.44,151.9 677.1,151.9 C677.76,151.9 679.22,161.91 679.8,163.8 C680.38,165.69 681.3,166.76 681.7,167 C682.1,167.24 682.84,165.86 683,165.7 L683,172.9 L627.2,172.9 Z" fill="#bababa" fill-opacity="0.74"/><path d="M476,52.5 C476.32,52.89 478.04,56.29 478.6,55.6 C479.16,54.91 480.05,48.54 480.5,47 C480.95,45.46 481.82,41.67 482.2,43.3 C482.57,44.92 483.18,53.66 483.5,60 C483.82,66.34 484.55,87.84 484.8,94 C485.05,100.16 485.25,108.83 485.5,109.3 C485.75,109.77 486.49,98.46 486.8,97.8 C487.11,97.14 487.68,104.22 488,104 C488.32,103.78 489.07,96.14 489.4,96 C489.72,95.86 490.29,102.68 490.6,102.9 C490.91,103.12 491.57,96.91 491.9,97.8 C492.22,98.69 492.88,106.97 493.2,110 C493.52,113.03 494.21,125.12 494.5,122 C494.79,118.88 495.26,94 495.5,85 C495.74,76 496.17,57.75 496.4,50 C496.62,42.25 497.06,23 497.3,23 C497.54,23 498.03,44.38 498.3,50 C498.57,55.62 499.23,61.75 499.5,68 C499.77,74.25 500.27,87.01 500.5,100 C500.73,112.99 501.2,162.91 501.3,171.9" fill="none" stroke="#717171" stroke-width="1.2" stroke-linejoin="round"/><path d="M539,171.9 C539.19,171.84 540.09,171.6 540.5,171.4 C540.91,171.2 541.94,170.49 542.3,170.3 C542.66,170.11 543.06,170.19 543.4,169.9 C543.74,169.61 544.61,168.32 545,168 C545.39,167.68 546.12,167.78 546.5,167.3 C546.88,166.83 547.66,165.21 548,164.2 C548.34,163.19 548.91,160.11 549.2,159.2 C549.49,158.29 550.06,157.25 550.3,156.9 C550.54,156.55 550.89,156.21 551.1,156.4 C551.31,156.59 551.76,157.24 552,158.4 C552.24,159.56 552.77,164.01 553,165.7 C553.23,167.39 553.7,171.12 553.8,171.9" fill="none" stroke="#717171" stroke-width="1.2" stroke-linejoin="round"/><path d="M627.2,171.6 C627.48,171.53 628.96,171.2 629.4,171 C629.84,170.8 630.36,170 630.7,170 C631.04,170 631.66,171.18 632.1,171 C632.54,170.82 633.78,168.69 634.2,168.6 C634.62,168.51 635.17,170.04 635.5,170.3 C635.83,170.56 636.44,170.77 636.8,170.7 C637.16,170.62 638.01,169.75 638.4,169.7 C638.79,169.65 639.5,170.55 639.9,170.3 C640.3,170.05 641.21,167.94 641.6,167.7 C641.99,167.46 642.61,168.51 643,168.4 C643.39,168.29 644.26,166.8 644.7,166.8 C645.14,166.8 646.06,168.18 646.5,168.4 C646.94,168.62 647.74,168.74 648.2,168.6 C648.66,168.46 649.75,167.25 650.2,167.3 C650.65,167.35 651.39,168.9 651.8,169 C652.21,169.1 653.08,168.38 653.5,168.1 C653.92,167.82 654.79,166.96 655.2,166.8 C655.61,166.64 656.41,167.51 656.8,166.8 C657.19,166.09 657.81,161.76 658.3,161.1 C658.79,160.44 660.2,161.09 660.7,161.5 C661.2,161.91 661.89,164.11 662.3,164.4 C662.71,164.69 663.46,163.93 664,163.8 C664.54,163.68 666.11,163.03 666.6,163.4 C667.09,163.78 667.32,168.56 667.9,166.8 C668.48,165.04 670.62,151.24 671.2,149.3 C671.78,147.36 672.09,149.49 672.5,151.3 C672.91,153.11 673.92,163.73 674.5,163.8 C675.08,163.88 676.44,151.9 677.1,151.9 C677.76,151.9 679.22,161.91 679.8,163.8 C680.38,165.69 681.3,166.76 681.7,167 C682.1,167.24 682.84,165.86 683,165.7" fill="none" stroke="#717171" stroke-width="1.2" stroke-linejoin="round"/></g>
<rect x="476" y="5.5" width="207" height="166.4" fill="none" stroke="#3a3a3a" stroke-width="1.1"/>
<line x1="683" y1="6.1" x2="683" y2="171.3" stroke="#fff" stroke-width="1.4"/>
<line x1="683" y1="6.1" x2="683" y2="171.3" stroke="#878787" stroke-width="1.7"/>
<line x1="476.6" y1="171.9" x2="682.4" y2="171.9" stroke="#fff" stroke-width="1.2"/>
<line x1="476" y1="171.9" x2="683.6" y2="171.9" stroke="#7a7a7a" stroke-width="1.6"/>
<text stroke="#111" stroke-width="0.12" x="501.57" y="184.7" text-anchor="middle" font-size="10.2" fill="#111">-2</text>
<text stroke="#111" stroke-width="0.12" x="553.33" y="184.7" text-anchor="middle" font-size="10.2" fill="#111">0</text>
<text stroke="#111" stroke-width="0.12" x="605.08" y="184.7" text-anchor="middle" font-size="10.2" fill="#111">2</text>
<text stroke="#111" stroke-width="0.12" x="656.83" y="184.7" text-anchor="middle" font-size="10.2" fill="#111">4</text>
<text x="484" y="19.4" font-size="14" font-weight="bold" fill="#000">c</text>
<line x1="499.3" y1="17.3" x2="520.8" y2="17.3" stroke="#717171" stroke-width="1.6"/>
<text stroke="#111" stroke-width="0.12" x="523.4" y="20.7" font-size="9.6" fill="#111">TDOS</text>
<line x1="499.3" y1="29.1" x2="520.8" y2="29.1" stroke="#ee5d69" stroke-width="1.6"/>
<text stroke="#111" stroke-width="0.12" x="523.4" y="32.5" font-size="9.6" fill="#111">Ga-s</text>
<line x1="499.3" y1="41.1" x2="520.8" y2="41.1" stroke="#55dccb" stroke-width="1.6"/>
<text stroke="#111" stroke-width="0.12" x="523.4" y="44.5" font-size="9.6" fill="#111">Ga-p</text>
<line x1="499.3" y1="52.3" x2="520.8" y2="52.3" stroke="#dcba48" stroke-width="1.6"/>
<text stroke="#111" stroke-width="0.12" x="523.4" y="55.7" font-size="9.6" fill="#111">O-p</text>
<rect x="577.5" y="5.5" width="105.5" height="84.3" fill="#fff" stroke="#808080" stroke-width="1.1"/>
<path d="M590.8,89.8v-2.2M603.95,89.8v-1.3M617.1,89.8v-2.2M630.25,89.8v-1.3M643.4,89.8v-2.2M656.55,89.8v-1.3M669.7,89.8v-2.2M577.5,80.42h1.3M577.5,71.05h2.2M577.5,61.67h1.3M577.5,52.3h2.2M577.5,42.92h1.3M577.5,33.55h2.2M577.5,24.17h1.3M577.5,14.8h2.2" stroke="#8c8c8c" stroke-width="0.8" fill="none"/>
<text stroke="#222" stroke-width="0.12" x="590.4" y="97.8" text-anchor="middle" font-size="7.3" fill="#222">-0.6</text>
<text stroke="#222" stroke-width="0.12" x="616.7" y="97.8" text-anchor="middle" font-size="7.3" fill="#222">-0.4</text>
<text stroke="#222" stroke-width="0.12" x="643" y="97.8" text-anchor="middle" font-size="7.3" fill="#222">-0.2</text>
<text stroke="#222" stroke-width="0.12" x="669.3" y="97.8" text-anchor="middle" font-size="7.3" fill="#222">0.0</text>
<text stroke="#222" stroke-width="0.12" x="575.5" y="92.4" text-anchor="end" font-size="7.3" fill="#222">0</text>
<text stroke="#222" stroke-width="0.12" x="575.5" y="73.65" text-anchor="end" font-size="7.3" fill="#222">1</text>
<text stroke="#222" stroke-width="0.12" x="575.5" y="54.9" text-anchor="end" font-size="7.3" fill="#222">2</text>
<text stroke="#222" stroke-width="0.12" x="575.5" y="36.15" text-anchor="end" font-size="7.3" fill="#222">3</text>
<text stroke="#222" stroke-width="0.12" x="575.5" y="17.4" text-anchor="end" font-size="7.3" fill="#222">4</text>
<text x="585.3" y="17.7" font-size="8.2" font-weight="bold" fill="#000">PDOS</text>
<clipPath id="icpc"><rect x="577.5" y="5.5" width="105.5" height="84.9"/></clipPath>
<g clip-path="url(#icpc)" fill="none" stroke-width="1.35" stroke-linejoin="round">
<path d="M577.5,89.8 C582.7,89.8 602.95,89.95 608.7,89.8 C614.45,89.65 610.73,89.28 612,88.9 C613.27,88.52 614.85,87.63 616.3,87.5 C617.75,87.37 619.07,88.47 620.7,88.1 C622.33,87.73 624.3,86.02 626.1,85.3 C627.9,84.58 629.87,84.17 631.5,83.8 C633.13,83.43 634.27,83.83 635.9,83.1 C637.53,82.37 639.32,81.03 641.3,79.4 C643.28,77.77 645.8,74.67 647.8,73.3 C649.8,71.93 651.55,71.85 653.3,71.2 C655.05,70.55 656.85,69.22 658.3,69.4 C659.75,69.58 660.52,70.55 662,72.3 C663.48,74.05 665.62,77.37 667.2,79.9 C668.78,82.43 670.45,85.85 671.5,87.5 C672.55,89.15 671.58,89.42 673.5,89.8 C675.42,90.18 681.42,89.8 683,89.8" stroke="#ee5d69"/>
<path d="M577.5,89.8 C582.7,89.8 602.95,89.88 608.7,89.8 C614.45,89.72 610.73,89.58 612,89.3 C613.27,89.02 614.85,88.22 616.3,88.1 C617.75,87.98 619.07,88.95 620.7,88.6 C622.33,88.25 624.3,86.92 626.1,86 C627.9,85.08 629.87,83.68 631.5,83.1 C633.13,82.52 634.27,83.58 635.9,82.5 C637.53,81.42 639.32,79.22 641.3,76.6 C643.28,73.98 645.8,68.97 647.8,66.8 C649.8,64.63 651.55,64.75 653.3,63.6 C655.05,62.45 656.85,59.9 658.3,59.9 C659.75,59.9 660.52,61 662,63.6 C663.48,66.2 665.62,71.7 667.2,75.5 C668.78,79.3 670.45,84.02 671.5,86.4 C672.55,88.78 671.58,89.23 673.5,89.8 C675.42,90.37 681.42,89.8 683,89.8" stroke="#55dccb"/>
<path d="M577.5,89.8 C580.25,89.8 590.35,89.93 594,89.8 C597.65,89.67 597.73,89 599.4,89 C601.07,89 602.45,89.67 604,89.8 C605.55,89.93 607.2,90.18 608.7,89.8 C610.2,89.42 611.55,88.5 613,87.5 C614.45,86.5 616.12,84.35 617.4,83.8 C618.68,83.25 619.62,84.5 620.7,84.2 C621.78,83.9 622.82,83.27 623.9,82 C624.98,80.73 626.12,78.12 627.2,76.6 C628.28,75.08 629.32,73.45 630.4,72.9 C631.48,72.35 632.6,74.02 633.7,73.3 C634.8,72.58 635.73,71.48 637,68.6 C638.27,65.72 639.85,60.65 641.3,56 C642.75,51.35 644.25,44.7 645.7,40.7 C647.15,36.7 648.57,34.53 650,32 C651.43,29.47 652.92,27.73 654.3,25.5 C655.68,23.27 657.2,19.13 658.3,18.6 C659.4,18.07 659.78,18.97 660.9,22.3 C662.02,25.63 663.73,31.9 665,38.6 C666.27,45.3 667.38,55.27 668.5,62.5 C669.62,69.73 670.83,77.45 671.7,82 C672.57,86.55 671.82,88.5 673.7,89.8 C675.58,91.1 681.45,89.8 683,89.8" stroke="#dcba48"/>
</g>
<path d="M577.5,5.5H683" stroke="#3a3a3a" stroke-width="1.1" fill="none"/>
<line x1="683" y1="6.1" x2="683" y2="90.8" stroke="#fff" stroke-width="1.4"/>
<line x1="683" y1="6.1" x2="683" y2="90.8" stroke="#878787" stroke-width="1.7"/>
<path d="M68.5,358.8v-3.6M94.5,358.8v-1.8M120.5,358.8v-3.6M146.5,358.8v-1.8M171.5,358.8v-3.6M197.5,358.8v-1.8M223.5,358.8v-3.6M42.5,342.5h1.8M42.5,325.5h3.6M42.5,308.5h1.8M42.5,292.5h3.6M42.5,275.5h1.8M42.5,259.5h3.6M42.5,242.5h1.8M42.5,225.5h3.6M42.5,209.5h1.8" stroke="#3a3a3a" stroke-width="1" fill="none"/>
<g clip-path="url(#cpd)"><path d="M42.5,237.9 C42.67,238.35 43.52,241.74 43.9,241.5 C44.27,241.26 45.16,237.69 45.5,236 C45.84,234.31 46.35,229.21 46.6,228 C46.85,226.79 47.25,225.3 47.5,226.3 C47.75,227.3 48.3,232.31 48.6,236 C48.9,239.69 49.57,250.48 49.9,255.8 C50.23,261.12 50.86,276.85 51.2,278.6 C51.54,280.35 52.23,270.05 52.6,269.8 C52.98,269.55 53.74,271.79 54.2,276.6 C54.66,281.41 55.74,307.91 56.3,308.3 C56.86,308.69 58.11,277.77 58.7,279.7 C59.29,281.62 60.51,325.54 61,323.7 C61.49,321.86 62.27,278.59 62.6,265 C62.93,251.41 63.38,223.09 63.6,215 C63.83,206.91 64.19,200.68 64.4,200.3 C64.61,199.93 65.04,204.29 65.3,212 C65.56,219.71 66.2,249.75 66.5,262 C66.8,274.25 67.45,297.94 67.7,310 C67.95,322.06 68.4,352.44 68.5,358.5 L68.5,359.8 L42.5,359.8 Z" fill="#bababa" fill-opacity="0.74"/><path d="M105.3,358.5 C105.66,358.46 107.59,358.44 108.2,358.2 C108.81,357.96 109.69,357.16 110.2,356.6 C110.71,356.04 111.79,354.26 112.3,353.7 C112.81,353.14 113.9,352.56 114.3,352.1 C114.7,351.64 115.24,351.12 115.5,350 C115.76,348.88 116.19,344.09 116.4,343.1 C116.61,342.11 116.95,341.85 117.2,342.1 C117.45,342.35 118.1,344.06 118.4,345.1 C118.7,346.14 119.32,348.72 119.6,350.4 C119.88,352.07 120.47,357.49 120.6,358.5 L120.6,359.8 L105.3,359.8 Z" fill="#bababa" fill-opacity="0.74"/><path d="M193.6,358.5 C194.1,358.25 196.94,356.55 197.6,356.5 C198.26,356.45 198.45,358.38 198.9,358.1 C199.35,357.83 200.7,354.33 201.2,354.3 C201.7,354.27 202.44,357.75 202.9,357.9 C203.36,358.05 204.4,355.54 204.9,355.5 C205.4,355.46 206.33,358.1 206.9,357.6 C207.47,357.1 208.95,351.55 209.5,351.5 C210.05,351.45 210.88,357.24 211.3,357.2 C211.73,357.16 212.45,351.09 212.9,351.2 C213.35,351.31 214.33,357.69 214.9,358.1 C215.47,358.51 216.79,355.44 217.5,354.5 C218.21,353.56 219.99,350.18 220.6,350.6 C221.21,351.03 221.88,357.24 222.4,357.9 C222.93,358.56 224.12,357.36 224.8,355.9 C225.48,354.44 227.05,346.59 227.8,346.2 C228.55,345.81 230.18,351.93 230.8,352.8 C231.43,353.68 232.26,353.65 232.8,353.2 C233.34,352.75 234.51,349.15 235.1,349.2 C235.69,349.25 236.88,353.68 237.5,353.6 C238.12,353.53 239.55,349.15 240.1,348.6 C240.65,348.05 241.4,350.79 241.9,349.2 C242.4,347.61 243.57,336.4 244.1,335.9 C244.62,335.4 245.42,344.5 246.1,345.2 C246.78,345.9 249.07,341.96 249.5,341.5 L249.5,359.8 L193.6,359.8 Z" fill="#bababa" fill-opacity="0.74"/><path d="M42.5,237.9 C42.67,238.35 43.52,241.74 43.9,241.5 C44.27,241.26 45.16,237.69 45.5,236 C45.84,234.31 46.35,229.21 46.6,228 C46.85,226.79 47.25,225.3 47.5,226.3 C47.75,227.3 48.3,232.31 48.6,236 C48.9,239.69 49.57,250.48 49.9,255.8 C50.23,261.12 50.86,276.85 51.2,278.6 C51.54,280.35 52.23,270.05 52.6,269.8 C52.98,269.55 53.74,271.79 54.2,276.6 C54.66,281.41 55.74,307.91 56.3,308.3 C56.86,308.69 58.11,277.77 58.7,279.7 C59.29,281.62 60.51,325.54 61,323.7 C61.49,321.86 62.27,278.59 62.6,265 C62.93,251.41 63.38,223.09 63.6,215 C63.83,206.91 64.19,200.68 64.4,200.3 C64.61,199.93 65.04,204.29 65.3,212 C65.56,219.71 66.2,249.75 66.5,262 C66.8,274.25 67.45,297.94 67.7,310 C67.95,322.06 68.4,352.44 68.5,358.5" fill="none" stroke="#4f4f4f" stroke-width="1.4" stroke-linejoin="round"/><path d="M105.3,358.5 C105.66,358.46 107.59,358.44 108.2,358.2 C108.81,357.96 109.69,357.16 110.2,356.6 C110.71,356.04 111.79,354.26 112.3,353.7 C112.81,353.14 113.9,352.56 114.3,352.1 C114.7,351.64 115.24,351.12 115.5,350 C115.76,348.88 116.19,344.09 116.4,343.1 C116.61,342.11 116.95,341.85 117.2,342.1 C117.45,342.35 118.1,344.06 118.4,345.1 C118.7,346.14 119.32,348.72 119.6,350.4 C119.88,352.07 120.47,357.49 120.6,358.5" fill="none" stroke="#4f4f4f" stroke-width="1.4" stroke-linejoin="round"/><path d="M193.6,358.5 C194.1,358.25 196.94,356.55 197.6,356.5 C198.26,356.45 198.45,358.38 198.9,358.1 C199.35,357.83 200.7,354.33 201.2,354.3 C201.7,354.27 202.44,357.75 202.9,357.9 C203.36,358.05 204.4,355.54 204.9,355.5 C205.4,355.46 206.33,358.1 206.9,357.6 C207.47,357.1 208.95,351.55 209.5,351.5 C210.05,351.45 210.88,357.24 211.3,357.2 C211.73,357.16 212.45,351.09 212.9,351.2 C213.35,351.31 214.33,357.69 214.9,358.1 C215.47,358.51 216.79,355.44 217.5,354.5 C218.21,353.56 219.99,350.18 220.6,350.6 C221.21,351.03 221.88,357.24 222.4,357.9 C222.93,358.56 224.12,357.36 224.8,355.9 C225.48,354.44 227.05,346.59 227.8,346.2 C228.55,345.81 230.18,351.93 230.8,352.8 C231.43,353.68 232.26,353.65 232.8,353.2 C233.34,352.75 234.51,349.15 235.1,349.2 C235.69,349.25 236.88,353.68 237.5,353.6 C238.12,353.53 239.55,349.15 240.1,348.6 C240.65,348.05 241.4,350.79 241.9,349.2 C242.4,347.61 243.57,336.4 244.1,335.9 C244.62,335.4 245.42,344.5 246.1,345.2 C246.78,345.9 249.07,341.96 249.5,341.5" fill="none" stroke="#4f4f4f" stroke-width="1.4" stroke-linejoin="round"/></g>
<rect x="42.5" y="192.5" width="207" height="166.3" fill="none" stroke="#3a3a3a" stroke-width="1.1"/>
<line x1="43.1" y1="358.8" x2="248.9" y2="358.8" stroke="#fff" stroke-width="1.2"/>
<line x1="42.5" y1="358.8" x2="250.1" y2="358.8" stroke="#6a6a6a" stroke-width="1.6"/>
<text stroke="#111" stroke-width="0.12" x="68.08" y="371.2" text-anchor="middle" font-size="10.2" fill="#111">-2</text>
<text stroke="#111" stroke-width="0.12" x="119.83" y="371.2" text-anchor="middle" font-size="10.2" fill="#111">0</text>
<text stroke="#111" stroke-width="0.12" x="171.57" y="371.2" text-anchor="middle" font-size="10.2" fill="#111">2</text>
<text stroke="#111" stroke-width="0.12" x="223.32" y="371.2" text-anchor="middle" font-size="10.2" fill="#111">4</text>
<text stroke="#111" stroke-width="0.12" x="38.5" y="362.5" text-anchor="end" font-size="10.2" fill="#111">0</text>
<text stroke="#111" stroke-width="0.12" x="38.5" y="329.24" text-anchor="end" font-size="10.2" fill="#111">20</text>
<text stroke="#111" stroke-width="0.12" x="38.5" y="295.98" text-anchor="end" font-size="10.2" fill="#111">40</text>
<text stroke="#111" stroke-width="0.12" x="38.5" y="262.72" text-anchor="end" font-size="10.2" fill="#111">60</text>
<text stroke="#111" stroke-width="0.12" x="38.5" y="229.46" text-anchor="end" font-size="10.2" fill="#111">80</text>
<text stroke="#111" stroke-width="0.12" x="38.5" y="196.2" text-anchor="end" font-size="10.2" fill="#111">100</text>
<text x="51.5" y="207" font-size="14" font-weight="bold" fill="#000">d</text>
<line x1="76.1" y1="204.1" x2="98.4" y2="204.1" stroke="#717171" stroke-width="1.6"/>
<text stroke="#111" stroke-width="0.12" x="101" y="207.5" font-size="9.6" fill="#111">TDOS</text>
<line x1="76.1" y1="215.4" x2="98.4" y2="215.4" stroke="#ee5d69" stroke-width="1.6"/>
<text stroke="#111" stroke-width="0.12" x="101" y="218.8" font-size="9.6" fill="#111">Ga-s</text>
<line x1="76.1" y1="227" x2="98.4" y2="227" stroke="#55dccb" stroke-width="1.6"/>
<text stroke="#111" stroke-width="0.12" x="101" y="230.4" font-size="9.6" fill="#111">Ga-p</text>
<line x1="76.1" y1="238.8" x2="98.4" y2="238.8" stroke="#dcba48" stroke-width="1.6"/>
<text stroke="#111" stroke-width="0.12" x="101" y="242.2" font-size="9.6" fill="#111">O-p</text>
<rect x="143.8" y="192.5" width="105.7" height="83.7" fill="#fff" stroke="#808080" stroke-width="1.1"/>
<path d="M157,276.2v-2.2M170.2,276.2v-1.3M183.4,276.2v-2.2M196.6,276.2v-1.3M209.8,276.2v-2.2M223,276.2v-1.3M236.2,276.2v-2.2M143.8,268.5h1.3M143.8,260.8h2.2M143.8,253.1h1.3M143.8,245.4h2.2M143.8,237.7h1.3M143.8,230h2.2M143.8,222.3h1.3M143.8,214.6h2.2M143.8,206.9h1.3M143.8,199.2h2.2" stroke="#8c8c8c" stroke-width="0.8" fill="none"/>
<text stroke="#222" stroke-width="0.12" x="156.6" y="284.2" text-anchor="middle" font-size="7.3" fill="#222">-0.6</text>
<text stroke="#222" stroke-width="0.12" x="183" y="284.2" text-anchor="middle" font-size="7.3" fill="#222">-0.4</text>
<text stroke="#222" stroke-width="0.12" x="209.4" y="284.2" text-anchor="middle" font-size="7.3" fill="#222">-0.2</text>
<text stroke="#222" stroke-width="0.12" x="235.8" y="284.2" text-anchor="middle" font-size="7.3" fill="#222">0.0</text>
<text stroke="#222" stroke-width="0.12" x="141.8" y="278.8" text-anchor="end" font-size="7.3" fill="#222">0</text>
<text stroke="#222" stroke-width="0.12" x="141.8" y="263.4" text-anchor="end" font-size="7.3" fill="#222">1</text>
<text stroke="#222" stroke-width="0.12" x="141.8" y="248" text-anchor="end" font-size="7.3" fill="#222">2</text>
<text stroke="#222" stroke-width="0.12" x="141.8" y="232.6" text-anchor="end" font-size="7.3" fill="#222">3</text>
<text stroke="#222" stroke-width="0.12" x="141.8" y="217.2" text-anchor="end" font-size="7.3" fill="#222">4</text>
<text stroke="#222" stroke-width="0.12" x="141.8" y="201.8" text-anchor="end" font-size="7.3" fill="#222">5</text>
<text x="149.1" y="204.4" font-size="8.2" font-weight="bold" fill="#000">PDOS</text>
<clipPath id="icpd"><rect x="143.8" y="192.5" width="105.7" height="84.3"/></clipPath>
<g clip-path="url(#icpd)" fill="none" stroke-width="1.35" stroke-linejoin="round">
<path d="M144,276.2 C149.33,276.2 169.62,276.28 176,276.2 C182.38,276.12 179.88,276.27 182.3,275.7 C184.72,275.13 188.12,273.68 190.5,272.8 C192.88,271.92 194.57,271.08 196.6,270.4 C198.63,269.72 201,269.15 202.7,268.7 C204.4,268.25 205.43,268.2 206.8,267.7 C208.17,267.2 209.53,266.9 210.9,265.7 C212.27,264.5 213.63,261.87 215,260.5 C216.37,259.13 217.9,257.77 219.1,257.5 C220.3,257.23 220.83,258.05 222.2,258.9 C223.57,259.75 226.05,261.63 227.3,262.6 C228.55,263.57 228.82,263.77 229.7,264.7 C230.58,265.63 231.73,267.05 232.6,268.2 C233.47,269.35 234.02,270.27 234.9,271.6 C235.78,272.93 235.47,275.43 237.9,276.2 C240.33,276.97 247.57,276.2 249.5,276.2" stroke="#ee5d69"/>
<path d="M144,276.2 C149.33,276.2 169.62,276.28 176,276.2 C182.38,276.12 179.88,276.27 182.3,275.7 C184.72,275.13 188.12,273.68 190.5,272.8 C192.88,271.92 194.57,271.25 196.6,270.4 C198.63,269.55 201,268.32 202.7,267.7 C204.4,267.08 205.43,267.38 206.8,266.7 C208.17,266.02 209.53,265.3 210.9,263.6 C212.27,261.9 213.63,258.55 215,256.5 C216.37,254.45 217.9,251.82 219.1,251.3 C220.3,250.78 220.83,252.37 222.2,253.4 C223.57,254.43 226.05,256.32 227.3,257.5 C228.55,258.68 228.82,259.3 229.7,260.5 C230.58,261.7 231.63,263.13 232.6,264.7 C233.57,266.27 234.43,267.98 235.5,269.9 C236.57,271.82 236.67,275.15 239,276.2 C241.33,277.25 247.75,276.2 249.5,276.2" stroke="#55dccb"/>
<path d="M144,276.2 C147,276.2 157.67,276.2 162,276.2 C166.33,276.2 167.65,276.42 170,276.2 C172.35,275.98 174.22,275.47 176.1,274.9 C177.98,274.33 179.77,273.42 181.3,272.8 C182.83,272.18 183.77,272.22 185.3,271.2 C186.83,270.18 188.62,268.48 190.5,266.7 C192.38,264.92 194.57,262.45 196.6,260.5 C198.63,258.55 201,256.02 202.7,255 C204.4,253.98 205.43,255.35 206.8,254.4 C208.17,253.45 209.7,252.37 210.9,249.3 C212.1,246.23 212.97,240.78 214,236 C215.03,231.22 216.25,224.08 217.1,220.6 C217.95,217.12 218.42,215.6 219.1,215.1 C219.78,214.6 220.35,215.82 221.2,217.6 C222.05,219.38 223.02,223.42 224.2,225.8 C225.38,228.18 227.28,229.53 228.3,231.9 C229.32,234.27 229.77,237.5 230.3,240 C230.83,242.5 231.02,244.4 231.5,246.9 C231.98,249.4 232.63,252.32 233.2,255 C233.77,257.68 234.33,260.52 234.9,263 C235.47,265.48 236.02,267.98 236.6,269.9 C237.18,271.82 237.9,273.45 238.4,274.5 C238.9,275.55 237.75,275.92 239.6,276.2 C241.45,276.48 247.85,276.2 249.5,276.2" stroke="#dcba48"/>
</g>
<path d="M143.8,192.5H249.5" stroke="#3a3a3a" stroke-width="1.1" fill="none"/>
<path d="M249.5,192.5V276.2" stroke="#3a3a3a" stroke-width="1.1" fill="none"/>
<path d="M285.5,358.5v-3.6M311.5,358.5v-1.8M337.5,358.5v-3.6M363.5,358.5v-1.8M388.5,358.5v-3.6M414.5,358.5v-1.8M440.5,358.5v-3.6M259.5,341.5h1.8M259.5,325.5h3.6M259.5,308.5h1.8M259.5,292.5h3.6M259.5,275.5h1.8M259.5,258.5h3.6M259.5,242.5h1.8M259.5,225.5h3.6M259.5,209.5h1.8" stroke="#3a3a3a" stroke-width="1" fill="none"/>
<g clip-path="url(#cpe)"><path d="M259.5,240 C259.62,238.62 260.19,230.86 260.5,229 C260.81,227.14 261.69,224.72 262,225.1 C262.31,225.47 262.79,228.89 263,232 C263.21,235.11 263.35,242.38 263.7,250 C264.05,257.62 265.19,289.8 265.8,293 C266.41,296.2 267.91,274.08 268.6,275.6 C269.29,277.12 270.64,304.44 271.3,305.2 C271.96,305.96 273.4,280.8 273.9,281.7 C274.4,282.6 274.98,313.24 275.3,312.4 C275.62,311.56 276.24,284.05 276.5,275 C276.76,265.95 277.15,249.72 277.4,240 C277.65,230.28 278.23,199.07 278.5,197.2 C278.77,195.32 279.31,215.9 279.6,225 C279.89,234.1 280.55,259.38 280.8,270 C281.05,280.62 281.41,298.94 281.6,310 C281.79,321.06 282.21,352.44 282.3,358.5 L282.3,359.5 L259.5,359.5 Z" fill="#bababa" fill-opacity="0.74"/><path d="M323.5,358.5 C323.57,358.46 323.81,358.47 324.1,358.2 C324.39,357.93 325.49,356.4 325.8,356.3 C326.11,356.2 326.35,357.62 326.6,357.4 C326.85,357.17 327.5,354.88 327.8,354.5 C328.1,354.12 328.69,354.5 329,354.4 C329.31,354.3 329.99,354.3 330.3,353.7 C330.61,353.1 331.2,350.46 331.5,349.6 C331.8,348.74 332.45,347.26 332.7,346.8 C332.95,346.34 333.24,346.31 333.5,345.9 C333.76,345.49 334.54,343.65 334.8,343.5 C335.06,343.35 335.38,343.72 335.6,344.7 C335.83,345.68 336.35,349.57 336.6,351.3 C336.85,353.03 337.48,357.6 337.6,358.5 L337.6,359.5 L323.5,359.5 Z" fill="#bababa" fill-opacity="0.74"/><path d="M412.4,358.5 C412.75,358.25 414.5,356.93 415.2,356.5 C415.9,356.07 417.39,355.1 418,355.1 C418.61,355.1 419.5,356.41 420.1,356.5 C420.7,356.59 422.2,356.15 422.8,355.8 C423.4,355.45 424.38,353.91 424.9,353.7 C425.42,353.49 426.48,353.93 427,354.1 C427.52,354.28 428.58,355.1 429.1,355.1 C429.62,355.1 430.68,354.01 431.2,354.1 C431.72,354.19 432.79,356.06 433.3,355.8 C433.81,355.54 434.79,352.21 435.3,352 C435.81,351.79 436.82,354.5 437.4,354.1 C437.97,353.7 439.41,349.2 439.9,348.8 C440.39,348.4 440.91,350.92 441.3,350.9 C441.69,350.88 442.54,348.6 443,348.6 C443.46,348.6 444.49,350.7 445,350.9 C445.51,351.1 446.58,349.9 447.1,350.2 C447.62,350.5 448.59,354.03 449.2,353.3 C449.81,352.57 451.39,345.27 452,344.4 C452.61,343.52 453.59,346.26 454.1,346.3 C454.61,346.34 455.59,344.12 456.1,344.7 C456.61,345.27 457.68,351.6 458.2,350.9 C458.72,350.2 459.81,339.36 460.3,339.1 C460.79,338.84 461.58,347.79 462.1,348.8 C462.62,349.81 463.95,347.11 464.5,347.2 C465.05,347.29 466.25,349.21 466.5,349.5 L466.5,359.5 L412.4,359.5 Z" fill="#bababa" fill-opacity="0.74"/><path d="M259.5,240 C259.62,238.62 260.19,230.86 260.5,229 C260.81,227.14 261.69,224.72 262,225.1 C262.31,225.47 262.79,228.89 263,232 C263.21,235.11 263.35,242.38 263.7,250 C264.05,257.62 265.19,289.8 265.8,293 C266.41,296.2 267.91,274.08 268.6,275.6 C269.29,277.12 270.64,304.44 271.3,305.2 C271.96,305.96 273.4,280.8 273.9,281.7 C274.4,282.6 274.98,313.24 275.3,312.4 C275.62,311.56 276.24,284.05 276.5,275 C276.76,265.95 277.15,249.72 277.4,240 C277.65,230.28 278.23,199.07 278.5,197.2 C278.77,195.32 279.31,215.9 279.6,225 C279.89,234.1 280.55,259.38 280.8,270 C281.05,280.62 281.41,298.94 281.6,310 C281.79,321.06 282.21,352.44 282.3,358.5" fill="none" stroke="#6a6a6a" stroke-width="1.25" stroke-linejoin="round"/><path d="M323.5,358.5 C323.57,358.46 323.81,358.47 324.1,358.2 C324.39,357.93 325.49,356.4 325.8,356.3 C326.11,356.2 326.35,357.62 326.6,357.4 C326.85,357.17 327.5,354.88 327.8,354.5 C328.1,354.12 328.69,354.5 329,354.4 C329.31,354.3 329.99,354.3 330.3,353.7 C330.61,353.1 331.2,350.46 331.5,349.6 C331.8,348.74 332.45,347.26 332.7,346.8 C332.95,346.34 333.24,346.31 333.5,345.9 C333.76,345.49 334.54,343.65 334.8,343.5 C335.06,343.35 335.38,343.72 335.6,344.7 C335.83,345.68 336.35,349.57 336.6,351.3 C336.85,353.03 337.48,357.6 337.6,358.5" fill="none" stroke="#6a6a6a" stroke-width="1.25" stroke-linejoin="round"/><path d="M412.4,358.5 C412.75,358.25 414.5,356.93 415.2,356.5 C415.9,356.07 417.39,355.1 418,355.1 C418.61,355.1 419.5,356.41 420.1,356.5 C420.7,356.59 422.2,356.15 422.8,355.8 C423.4,355.45 424.38,353.91 424.9,353.7 C425.42,353.49 426.48,353.93 427,354.1 C427.52,354.28 428.58,355.1 429.1,355.1 C429.62,355.1 430.68,354.01 431.2,354.1 C431.72,354.19 432.79,356.06 433.3,355.8 C433.81,355.54 434.79,352.21 435.3,352 C435.81,351.79 436.82,354.5 437.4,354.1 C437.97,353.7 439.41,349.2 439.9,348.8 C440.39,348.4 440.91,350.92 441.3,350.9 C441.69,350.88 442.54,348.6 443,348.6 C443.46,348.6 444.49,350.7 445,350.9 C445.51,351.1 446.58,349.9 447.1,350.2 C447.62,350.5 448.59,354.03 449.2,353.3 C449.81,352.57 451.39,345.27 452,344.4 C452.61,343.52 453.59,346.26 454.1,346.3 C454.61,346.34 455.59,344.12 456.1,344.7 C456.61,345.27 457.68,351.6 458.2,350.9 C458.72,350.2 459.81,339.36 460.3,339.1 C460.79,338.84 461.58,347.79 462.1,348.8 C462.62,349.81 463.95,347.11 464.5,347.2 C465.05,347.29 466.25,349.21 466.5,349.5" fill="none" stroke="#6a6a6a" stroke-width="1.25" stroke-linejoin="round"/></g>
<rect x="259.5" y="192.5" width="207" height="166" fill="none" stroke="#3a3a3a" stroke-width="1.1"/>
<line x1="260.1" y1="358.5" x2="465.9" y2="358.5" stroke="#fff" stroke-width="1.2"/>
<line x1="259.5" y1="358.5" x2="467.1" y2="358.5" stroke="#555" stroke-width="1.3"/>
<text stroke="#111" stroke-width="0.12" x="285.07" y="370.9" text-anchor="middle" font-size="10.2" fill="#111">-2</text>
<text stroke="#111" stroke-width="0.12" x="336.82" y="370.9" text-anchor="middle" font-size="10.2" fill="#111">0</text>
<text stroke="#111" stroke-width="0.12" x="388.57" y="370.9" text-anchor="middle" font-size="10.2" fill="#111">2</text>
<text stroke="#111" stroke-width="0.12" x="440.32" y="370.9" text-anchor="middle" font-size="10.2" fill="#111">4</text>
<text x="267.5" y="207" font-size="14" font-weight="bold" fill="#000">e</text>
<line x1="295.4" y1="204.6" x2="317.7" y2="204.6" stroke="#717171" stroke-width="1.6"/>
<text stroke="#111" stroke-width="0.12" x="319.7" y="208" font-size="9.6" fill="#111">TDOS</text>
<line x1="295.4" y1="216.1" x2="317.7" y2="216.1" stroke="#ee5d69" stroke-width="1.6"/>
<text stroke="#111" stroke-width="0.12" x="319.7" y="219.5" font-size="9.6" fill="#111">Ga-s</text>
<line x1="295.4" y1="227.6" x2="317.7" y2="227.6" stroke="#55dccb" stroke-width="1.6"/>
<text stroke="#111" stroke-width="0.12" x="319.7" y="231" font-size="9.6" fill="#111">Ga-p</text>
<line x1="295.4" y1="239.1" x2="317.7" y2="239.1" stroke="#dcba48" stroke-width="1.6"/>
<text stroke="#111" stroke-width="0.12" x="319.7" y="242.5" font-size="9.6" fill="#111">O-p</text>
<rect x="360.8" y="192.5" width="105.7" height="84.3" fill="#fff" stroke="#808080" stroke-width="1.1"/>
<path d="M373.4,276.8v-2.2M386.5,276.8v-1.3M399.6,276.8v-2.2M412.7,276.8v-1.3M425.8,276.8v-2.2M438.9,276.8v-1.3M452,276.8v-2.2M465.1,276.8v-1.3M360.8,269.2h1.3M360.8,261.6h2.2M360.8,254h1.3M360.8,246.4h2.2M360.8,238.8h1.3M360.8,231.2h2.2M360.8,223.6h1.3M360.8,216h2.2M360.8,208.4h1.3M360.8,200.8h2.2M360.8,193.2h1.3" stroke="#8c8c8c" stroke-width="0.8" fill="none"/>
<text stroke="#222" stroke-width="0.12" x="373" y="284.8" text-anchor="middle" font-size="7.3" fill="#222">-0.6</text>
<text stroke="#222" stroke-width="0.12" x="399.2" y="284.8" text-anchor="middle" font-size="7.3" fill="#222">-0.4</text>
<text stroke="#222" stroke-width="0.12" x="425.4" y="284.8" text-anchor="middle" font-size="7.3" fill="#222">-0.2</text>
<text stroke="#222" stroke-width="0.12" x="451.6" y="284.8" text-anchor="middle" font-size="7.3" fill="#222">0.0</text>
<text stroke="#222" stroke-width="0.12" x="358.8" y="279.4" text-anchor="end" font-size="7.3" fill="#222">0</text>
<text stroke="#222" stroke-width="0.12" x="358.8" y="264.2" text-anchor="end" font-size="7.3" fill="#222">1</text>
<text stroke="#222" stroke-width="0.12" x="358.8" y="249" text-anchor="end" font-size="7.3" fill="#222">2</text>
<text stroke="#222" stroke-width="0.12" x="358.8" y="233.8" text-anchor="end" font-size="7.3" fill="#222">3</text>
<text stroke="#222" stroke-width="0.12" x="358.8" y="218.6" text-anchor="end" font-size="7.3" fill="#222">4</text>
<text stroke="#222" stroke-width="0.12" x="358.8" y="203.4" text-anchor="end" font-size="7.3" fill="#222">5</text>
<text x="367" y="204.9" font-size="8.2" font-weight="bold" fill="#000">PDOS</text>
<clipPath id="icpe"><rect x="360.8" y="192.5" width="105.7" height="84.9"/></clipPath>
<g clip-path="url(#icpe)" fill="none" stroke-width="1.35" stroke-linejoin="round">
<path d="M360.5,276.8 C364.75,276.8 380.73,277.12 386,276.8 C391.27,276.48 390.05,275.05 392.1,274.9 C394.15,274.75 395.9,276.42 398.3,275.9 C400.7,275.38 404.12,272.38 406.5,271.8 C408.88,271.22 410.57,272.75 412.6,272.4 C414.63,272.05 416.65,270.72 418.7,269.7 C420.75,268.68 423.18,267.32 424.9,266.3 C426.62,265.28 427.47,264.05 429,263.6 C430.53,263.15 432.23,264.03 434.1,263.6 C435.97,263.17 438.45,261.17 440.2,261 C441.95,260.83 443.13,261.48 444.6,262.6 C446.07,263.72 447.6,265.83 449,267.7 C450.4,269.57 452,272.28 453,273.8 C454,275.32 452.75,276.3 455,276.8 C457.25,277.3 464.58,276.8 466.5,276.8" stroke="#ee5d69"/>
<path d="M360.5,276.8 C364.75,276.8 380.73,277.02 386,276.8 C391.27,276.58 390.05,275.58 392.1,275.5 C394.15,275.42 395.9,276.92 398.3,276.3 C400.7,275.68 404.12,272.38 406.5,271.8 C408.88,271.22 410.57,273.25 412.6,272.8 C414.63,272.35 416.65,270.63 418.7,269.1 C420.75,267.57 423.18,265.3 424.9,263.6 C426.62,261.9 427.47,259.92 429,258.9 C430.53,257.88 432.23,258.52 434.1,257.5 C435.97,256.48 438.45,253.15 440.2,252.8 C441.95,252.45 443.13,253.43 444.6,255.4 C446.07,257.37 447.57,261.53 449,264.6 C450.43,267.67 452.17,271.77 453.2,273.8 C454.23,275.83 452.98,276.3 455.2,276.8 C457.42,277.3 464.62,276.8 466.5,276.8" stroke="#55dccb"/>
<path d="M360.5,276.8 C361.75,276.8 365.88,276.93 368,276.8 C370.12,276.67 371.53,276 373.2,276 C374.87,276 375.87,276.67 378,276.8 C380.13,276.93 383.98,277.3 386,276.8 C388.02,276.3 388.73,274.53 390.1,273.8 C391.47,273.07 392.67,272.28 394.2,272.4 C395.73,272.52 397.77,274.77 399.3,274.5 C400.83,274.23 402.03,272.27 403.4,270.8 C404.77,269.33 406.13,266.32 407.5,265.7 C408.87,265.08 410.23,267.45 411.6,267.1 C412.97,266.75 414.33,265.37 415.7,263.6 C417.07,261.83 418.43,259.4 419.8,256.5 C421.17,253.6 422.53,249.28 423.9,246.2 C425.27,243.12 426.65,239.77 428,238 C429.35,236.23 430.65,237.03 432,235.6 C433.35,234.17 434.73,231.22 436.1,229.4 C437.47,227.58 439.07,224.8 440.2,224.7 C441.33,224.6 441.77,225.72 442.9,228.8 C444.03,231.88 445.75,238.08 447,243.2 C448.25,248.32 449.35,254.57 450.4,259.5 C451.45,264.43 452.48,269.92 453.3,272.8 C454.12,275.68 453.1,276.13 455.3,276.8 C457.5,277.47 464.63,276.8 466.5,276.8" stroke="#dcba48"/>
</g>
<path d="M360.8,192.5H466.5" stroke="#3a3a3a" stroke-width="1.1" fill="none"/>
<path d="M466.5,192.5V276.8" stroke="#3a3a3a" stroke-width="1.1" fill="none"/>
<path d="M502.5,358.8v-3.6M528.5,358.8v-1.8M554.5,358.8v-3.6M580.5,358.8v-1.8M605.5,358.8v-3.6M631.5,358.8v-1.8M657.5,358.8v-3.6M476.5,342.5h1.8M476.5,325.5h3.6M476.5,308.5h1.8M476.5,292.5h3.6M476.5,275.5h1.8M476.5,259.5h3.6M476.5,242.5h1.8M476.5,225.5h3.6M476.5,209.5h1.8" stroke="#3a3a3a" stroke-width="1" fill="none"/>
<g clip-path="url(#cpf)"><path d="M476.5,288.3 C476.75,286.96 477.96,280.5 478.5,277.6 C479.04,274.7 480.2,267.9 480.8,265.1 C481.4,262.3 482.62,254.88 483.3,255.2 C483.98,255.52 485.39,268.15 486.2,267.7 C487.01,267.25 488.86,252.71 489.8,251.6 C490.74,250.49 492.99,259.12 493.7,258.8 C494.41,258.48 495.09,251.1 495.5,249 C495.91,246.9 496.71,243.81 497,242 C497.29,240.19 497.51,235.78 497.8,234.5 C498.09,233.22 498.86,232.21 499.3,231.8 C499.74,231.39 500.85,232.59 501.3,231.2 C501.75,229.81 502.54,222.44 502.9,220.7 C503.26,218.96 503.88,217.39 504.2,217.3 C504.52,217.21 505.25,217.79 505.5,220 C505.75,222.21 506.04,230 506.2,235 C506.36,240 506.64,251.97 506.8,260 C506.96,268.02 507.07,297.11 507.5,299.2 C507.93,301.29 509.57,275.94 510.2,276.7 C510.82,277.46 511.88,305.53 512.5,305.3 C513.12,305.07 514.6,273.7 515.2,274.9 C515.8,276.1 516.82,318.01 517.3,314.9 C517.77,311.79 518.64,263.43 519,250 C519.36,236.57 519.91,207.5 520.2,207.5 C520.49,207.5 521,239.69 521.3,250 C521.6,260.31 522.21,276.44 522.6,290 C522.99,303.56 524.17,349.94 524.4,358.5 L524.4,359.8 L476.5,359.8 Z" fill="#bababa" fill-opacity="0.74"/><path d="M546.5,358.5 C546.81,357.69 548.5,354.31 549,352 C549.5,349.69 550.12,342.48 550.5,340 C550.88,337.52 551.65,332.2 552,332.2 C552.35,332.2 552.92,336.71 553.3,340 C553.67,343.29 554.79,356.19 555,358.5 L555,359.8 L546.5,359.8 Z" fill="#bababa" fill-opacity="0.74"/><path d="M653.5,358.5 C654.26,358.46 658.52,358.59 659.6,358.2 C660.68,357.81 661.54,355.4 662.1,355.4 C662.66,355.4 663.61,358.12 664.1,358.2 C664.59,358.27 665.54,356 666,356 C666.46,356 667.26,358.39 667.8,358.2 C668.34,358.01 669.84,354.8 670.3,354.5 C670.76,354.2 671.11,356.07 671.5,355.8 C671.89,355.53 672.94,352.28 673.4,352.3 C673.86,352.32 674.56,355.49 675.2,356 C675.84,356.51 677.69,356.74 678.5,356.4 C679.31,356.06 681.08,353.54 681.7,353.3 C682.33,353.06 683.27,354.35 683.5,354.5 L683.5,359.8 L653.5,359.8 Z" fill="#bababa" fill-opacity="0.74"/><path d="M476.5,288.3 C476.75,286.96 477.96,280.5 478.5,277.6 C479.04,274.7 480.2,267.9 480.8,265.1 C481.4,262.3 482.62,254.88 483.3,255.2 C483.98,255.52 485.39,268.15 486.2,267.7 C487.01,267.25 488.86,252.71 489.8,251.6 C490.74,250.49 492.99,259.12 493.7,258.8 C494.41,258.48 495.09,251.1 495.5,249 C495.91,246.9 496.71,243.81 497,242 C497.29,240.19 497.51,235.78 497.8,234.5 C498.09,233.22 498.86,232.21 499.3,231.8 C499.74,231.39 500.85,232.59 501.3,231.2 C501.75,229.81 502.54,222.44 502.9,220.7 C503.26,218.96 503.88,217.39 504.2,217.3 C504.52,217.21 505.25,217.79 505.5,220 C505.75,222.21 506.04,230 506.2,235 C506.36,240 506.64,251.97 506.8,260 C506.96,268.02 507.07,297.11 507.5,299.2 C507.93,301.29 509.57,275.94 510.2,276.7 C510.82,277.46 511.88,305.53 512.5,305.3 C513.12,305.07 514.6,273.7 515.2,274.9 C515.8,276.1 516.82,318.01 517.3,314.9 C517.77,311.79 518.64,263.43 519,250 C519.36,236.57 519.91,207.5 520.2,207.5 C520.49,207.5 521,239.69 521.3,250 C521.6,260.31 522.21,276.44 522.6,290 C522.99,303.56 524.17,349.94 524.4,358.5" fill="none" stroke="#717171" stroke-width="1.2" stroke-linejoin="round"/><path d="M546.5,358.5 C546.81,357.69 548.5,354.31 549,352 C549.5,349.69 550.12,342.48 550.5,340 C550.88,337.52 551.65,332.2 552,332.2 C552.35,332.2 552.92,336.71 553.3,340 C553.67,343.29 554.79,356.19 555,358.5" fill="none" stroke="#717171" stroke-width="1.2" stroke-linejoin="round"/><path d="M653.5,358.5 C654.26,358.46 658.52,358.59 659.6,358.2 C660.68,357.81 661.54,355.4 662.1,355.4 C662.66,355.4 663.61,358.12 664.1,358.2 C664.59,358.27 665.54,356 666,356 C666.46,356 667.26,358.39 667.8,358.2 C668.34,358.01 669.84,354.8 670.3,354.5 C670.76,354.2 671.11,356.07 671.5,355.8 C671.89,355.53 672.94,352.28 673.4,352.3 C673.86,352.32 674.56,355.49 675.2,356 C675.84,356.51 677.69,356.74 678.5,356.4 C679.31,356.06 681.08,353.54 681.7,353.3 C682.33,353.06 683.27,354.35 683.5,354.5" fill="none" stroke="#717171" stroke-width="1.2" stroke-linejoin="round"/></g>
<rect x="476.5" y="192.5" width="207" height="166.3" fill="none" stroke="#3a3a3a" stroke-width="1.1"/>
<line x1="477.1" y1="358.8" x2="682.9" y2="358.8" stroke="#fff" stroke-width="1.2"/>
<line x1="476.5" y1="358.8" x2="684.1" y2="358.8" stroke="#7c7c7c" stroke-width="1.7"/>
<text stroke="#111" stroke-width="0.12" x="502.07" y="371.2" text-anchor="middle" font-size="10.2" fill="#111">-2</text>
<text stroke="#111" stroke-width="0.12" x="553.83" y="371.2" text-anchor="middle" font-size="10.2" fill="#111">0</text>
<text stroke="#111" stroke-width="0.12" x="605.58" y="371.2" text-anchor="middle" font-size="10.2" fill="#111">2</text>
<text stroke="#111" stroke-width="0.12" x="657.33" y="371.2" text-anchor="middle" font-size="10.2" fill="#111">4</text>
<text x="483.8" y="207" font-size="14" font-weight="bold" fill="#000">f</text>
<line x1="504.8" y1="204.7" x2="526.8" y2="204.7" stroke="#717171" stroke-width="1.6"/>
<text stroke="#111" stroke-width="0.12" x="528.5" y="208.1" font-size="9.6" fill="#111">TDOS</text>
<line x1="504.8" y1="216.5" x2="526.8" y2="216.5" stroke="#ee5d69" stroke-width="1.6"/>
<text stroke="#111" stroke-width="0.12" x="528.5" y="219.9" font-size="9.6" fill="#111">Ga-s</text>
<line x1="504.8" y1="228" x2="526.8" y2="228" stroke="#55dccb" stroke-width="1.6"/>
<text stroke="#111" stroke-width="0.12" x="528.5" y="231.4" font-size="9.6" fill="#111">Ga-p</text>
<line x1="504.8" y1="239.8" x2="526.8" y2="239.8" stroke="#dcba48" stroke-width="1.6"/>
<text stroke="#111" stroke-width="0.12" x="528.5" y="243.2" font-size="9.6" fill="#111">O-p</text>
<rect x="578.7" y="192.5" width="104.8" height="83.7" fill="#fff" stroke="#808080" stroke-width="1.1"/>
<path d="M591.5,276.2v-2.2M604.4,276.2v-1.3M617.3,276.2v-2.2M630.2,276.2v-1.3M643.1,276.2v-2.2M656,276.2v-1.3M668.9,276.2v-2.2M681.8,276.2v-1.3M578.7,265.1h1.3M578.7,254h2.2M578.7,242.9h1.3M578.7,231.8h2.2M578.7,220.7h1.3M578.7,209.6h2.2M578.7,198.5h1.3" stroke="#8c8c8c" stroke-width="0.8" fill="none"/>
<text stroke="#222" stroke-width="0.12" x="591.1" y="284.2" text-anchor="middle" font-size="7.3" fill="#222">-0.3</text>
<text stroke="#222" stroke-width="0.12" x="616.9" y="284.2" text-anchor="middle" font-size="7.3" fill="#222">-0.2</text>
<text stroke="#222" stroke-width="0.12" x="642.7" y="284.2" text-anchor="middle" font-size="7.3" fill="#222">-0.1</text>
<text stroke="#222" stroke-width="0.12" x="668.5" y="284.2" text-anchor="middle" font-size="7.3" fill="#222">0.0</text>
<text stroke="#222" stroke-width="0.12" x="576.7" y="278.8" text-anchor="end" font-size="7.3" fill="#222">0</text>
<text stroke="#222" stroke-width="0.12" x="576.7" y="256.6" text-anchor="end" font-size="7.3" fill="#222">2</text>
<text stroke="#222" stroke-width="0.12" x="576.7" y="234.4" text-anchor="end" font-size="7.3" fill="#222">4</text>
<text stroke="#222" stroke-width="0.12" x="576.7" y="212.2" text-anchor="end" font-size="7.3" fill="#222">6</text>
<text x="585.3" y="204.4" font-size="8.2" font-weight="bold" fill="#000">PDOS</text>
<clipPath id="icpf"><rect x="578.7" y="192.5" width="104.8" height="84.3"/></clipPath>
<g clip-path="url(#icpf)" fill="none" stroke-width="1.35" stroke-linejoin="round">
<path d="M578,276.2 C582.17,276.2 598.32,276.22 603,276.2 C607.68,276.18 603.72,276.38 606.1,276.1 C608.48,275.82 613.78,275.47 617.3,274.5 C620.82,273.53 624.15,271.7 627.2,270.3 C630.25,268.9 632.78,267.85 635.6,266.1 C638.42,264.35 641.92,261.23 644.1,259.8 C646.28,258.37 647.43,258.05 648.7,257.5 C649.97,256.95 650.55,256.43 651.7,256.5 C652.85,256.57 653.98,256.78 655.6,257.9 C657.22,259.02 659.48,261.17 661.4,263.2 C663.32,265.23 665.38,268.18 667.1,270.1 C668.82,272.02 670.47,273.68 671.7,274.7 C672.93,275.72 672.53,275.95 674.5,276.2 C676.47,276.45 682,276.2 683.5,276.2" stroke="#ee5d69"/>
<path d="M578,276.2 C581.67,276.2 595.78,276.22 600,276.2 C604.22,276.18 601.12,276.38 603.3,276.1 C605.48,275.82 610.52,275.12 613.1,274.5 C615.68,273.88 616.45,273.8 618.8,272.4 C621.15,271 624.4,268.57 627.2,266.1 C630,263.63 633.17,260.32 635.6,257.6 C638.03,254.88 639.8,252.13 641.8,249.8 C643.8,247.47 645.95,245.08 647.6,243.6 C649.25,242.12 650.37,241.08 651.7,240.9 C653.03,240.72 654.18,240.9 655.6,242.5 C657.02,244.1 658.47,247.23 660.2,250.5 C661.93,253.77 664.27,258.63 666,262.1 C667.73,265.57 669.18,268.95 670.6,271.3 C672.02,273.65 672.35,275.38 674.5,276.2 C676.65,277.02 682,276.2 683.5,276.2" stroke="#55dccb"/>
<path d="M578,276.2 C578.92,276.2 586.85,276.21 588,276.2 C589.15,276.19 589.58,276.32 590.6,276.1 C591.62,275.88 597.55,274.23 599.1,273.8 C600.65,273.37 606.22,271.85 607.5,271.4 C608.78,270.95 612.27,269.39 613.1,268.9 C613.93,268.41 615.82,267 616.6,266.1 C617.38,265.2 620.63,260.52 621.6,259.1 C622.57,257.68 626.17,252.28 627.2,250.6 C628.23,248.92 631.9,242.48 632.8,240.8 C633.7,239.12 636.42,233.72 637,232.3 C637.58,230.88 638.56,227.01 639.1,225.3 C639.64,223.59 642.15,215.85 642.9,213.7 C643.65,211.55 646.53,203.46 647.3,201.8 C648.07,200.14 650.59,195.83 651.3,195.6 C652.01,195.37 654.48,198.59 655,199.3 C655.52,200.01 656.58,202.19 657,203.3 C657.42,204.41 658.99,209.18 659.6,211.4 C660.21,213.62 662.9,224.13 663.7,227.5 C664.5,230.87 667.5,244.61 668.3,248.2 C669.1,251.79 671.73,264.13 672.4,266.7 C673.07,269.27 674.58,275.33 675.6,276.2 C676.62,277.07 682.78,276.2 683.5,276.2" stroke="#dcba48"/>
</g>
<path d="M578.7,192.5H683.5" stroke="#3a3a3a" stroke-width="1.1" fill="none"/>
<path d="M683.5,192.5V276.2" stroke="#3a3a3a" stroke-width="1.1" fill="none"/>
</svg></body></html>
